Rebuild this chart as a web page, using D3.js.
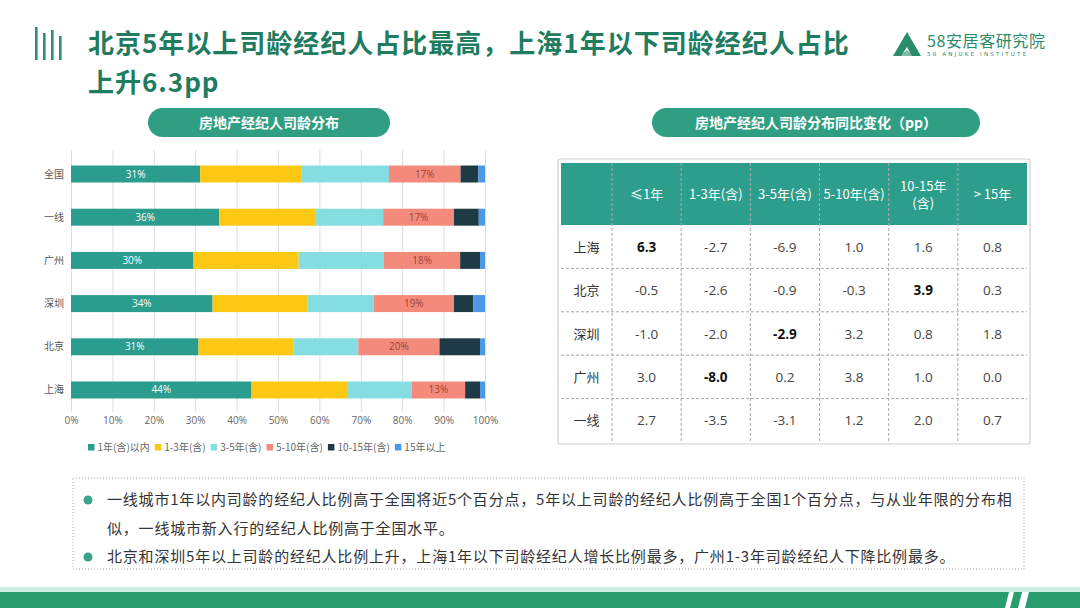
<!DOCTYPE html>
<html>
<head>
<meta charset="utf-8">
<script src="https://cdn.jsdelivr.net/npm/d3@7"></script>
<style>
  body { margin: 0; background: #fff; }
  #wrap { position: relative; width: 1080px; height: 608px; }
  svg { display: block; font-family: "Noto Sans CJK SC", "Noto Sans", sans-serif; }
  #title { position: absolute; left: 88px; top: 23px; font-family: "Noto Sans CJK SC", sans-serif;
           font-size: 26px; font-weight: 700; line-height: 38.5px; letter-spacing: 1px; white-space: nowrap; }
</style>
</head>
<body>
<div id="wrap">
<svg id="chart" width="1080" height="608"></svg>
<div id="title"></div>
</div>
<script>
// ---- data ----
var cities = ["全国", "一线", "广州", "深圳", "北京", "上海"];
var ageKeys = ["1年(含)以内", "1-3年(含)", "3-5年(含)", "5-10年(含)", "10-15年(含)", "15年以上"];
var share = [
  [31.2, 24.4, 21.2, 17.3, 4.3, 1.6],
  [35.8, 23.4, 16.2, 17.1, 6.0, 1.5],
  [29.6, 25.4, 20.6, 18.4, 4.8, 1.2],
  [34.2, 23.0, 15.9, 19.4, 4.7, 2.8],
  [30.8, 23.0, 15.6, 19.6, 9.8, 1.2],
  [43.6, 23.1, 15.6, 12.9, 3.6, 1.2]
];
var xTicks = [0, 10, 20, 30, 40, 50, 60, 70, 80, 90, 100];
var labelled = [0, 3];   // series that carry % labels

var tableCols = ["≤1年", "1-3年(含)", "3-5年(含)", "5-10年(含)", "10-15年\n(含)", "> 15年"];
var tableRows = ["上海", "北京", "深圳", "广州", "一线"];
var changes = [
  [6.3, -2.7, -6.9, 1.0, 1.6, 0.8],
  [-0.5, -2.6, -0.9, -0.3, 3.9, 0.3],
  [-1.0, -2.0, -2.9, 3.2, 0.8, 1.8],
  [3.0, -8.0, 0.2, 3.8, 1.0, 0.0],
  [2.7, -3.5, -3.1, 1.2, 2.0, 0.7]
];
var boldCells = [[0, 0], [1, 4], [2, 2], [3, 1]];

var titleLines = ["北京5年以上司龄经纪人占比最高，上海1年以下司龄经纪人占比", "上升6.3pp"];
var leftTitle = "房地产经纪人司龄分布";
var rightTitle = "房地产经纪人司龄分布同比变化（pp）";
var notes = [
  ["一线城市1年以内司龄的经纪人比例高于全国将近5个百分点，5年以上司龄的经纪人比例高于全国1个百分点，与从业年限的分布相",
   "似，一线城市新入行的经纪人比例高于全国水平。"],
  ["北京和深圳5年以上司龄的经纪人比例上升，上海1年以下司龄经纪人增长比例最多，广州1-3年司龄经纪人下降比例最多。"]
];

var colors = ["#2a9d8f", "#fbc813", "#84dde0", "#f48a7c", "#1e3b45", "#4a98e6"];
var green = "#1f7c5f";

var svg = d3.select("#chart");

// ---- header ----
var icon = svg.append("g").attr("fill", "#2b8f70");
[[35, 27], [43, 33], [51, 30], [59, 36]].forEach(function (b) {
  icon.append("rect").attr("x", b[0]).attr("y", b[1]).attr("width", 2.6).attr("height", 60 - b[1]);
});

d3.select("#title").style("color", green)
  .selectAll("div").data(titleLines).enter().append("div")
  .text(function (d) { return d; });

// logo
var logo = svg.append("g");
logo.append("path").attr("fill", "#2a8c6b")
  .attr("d", "M907,32 L921,56 L912,56 L907,47 L901,56 L893,56 Z");
logo.append("path").attr("fill", "#2a8c6b")
  .attr("d", "M899,56 L907,50 L915,56 Z").attr("opacity", 0.6);
logo.append("text").attr("x", 927).attr("y", 47)
  .attr("font-size", 16).attr("letter-spacing", 0.6).attr("fill", "#2a8c6b")
  .text("58安居客研究院");
logo.append("text").attr("x", 927).attr("y", 56)
  .attr("font-size", 5.5).attr("letter-spacing", 2.2).attr("fill", "#2a8c6b")
  .attr("font-family", "DejaVu Sans")
  .text("58 ANJUKE  INSTITUTE");

// section pills
[[148, 390, leftTitle], [652, 980, rightTitle]].forEach(function (p) {
  svg.append("rect").attr("x", p[0]).attr("y", 108).attr("width", p[1] - p[0]).attr("height", 29)
    .attr("rx", 14.5).attr("fill", "#2f9e83");
  svg.append("text").attr("x", (p[0] + p[1]) / 2).attr("y", 127.5)
    .attr("text-anchor", "middle").attr("font-size", 14).attr("font-weight", 700)
    .attr("fill", "#fff").text(p[2]);
});

// ---- stacked bar chart ----
var x = d3.scaleLinear().domain([0, 100]).range([71, 485]);
var y = d3.scaleBand().domain(cities).range([152, 412]).paddingInner(0.607).paddingOuter(0.313);

var gx = svg.append("g").attr("transform", "translate(0,412)")
  .call(d3.axisBottom(x).tickValues(xTicks).tickSize(-262).tickFormat(function (d) { return d + "%"; }));
gx.select(".domain").remove();
gx.selectAll(".tick line").attr("stroke", "#dedede");
gx.selectAll(".tick text").attr("dy", 9).attr("font-size", 10).attr("fill", "#666")
  .attr("font-family", "Open Sans, sans-serif");

var rows = cities.map(function (c, i) {
  var o = { city: c };
  ageKeys.forEach(function (k, j) { o[k] = share[i][j]; });
  return o;
});
var stacked = d3.stack().keys(ageKeys)(rows);

var layers = svg.selectAll("g.layer").data(stacked).enter().append("g")
  .attr("class", "layer").attr("fill", function (d, i) { return colors[i]; });
layers.selectAll("rect").data(function (d) { return d; }).enter().append("rect")
  .attr("x", function (d) { return x(d[0]); })
  .attr("y", function (d) { return y(d.data.city); })
  .attr("width", function (d) { return x(d[1]) - x(d[0]); })
  .attr("height", y.bandwidth());

labelled.forEach(function (si) {
  svg.append("g").selectAll("text").data(stacked[si]).enter().append("text")
    .attr("x", function (d) { return (x(d[0]) + x(d[1])) / 2; })
    .attr("y", function (d) { return y(d.data.city) + y.bandwidth() / 2 + 3.5; })
    .attr("text-anchor", "middle").attr("font-size", 10)
    .attr("font-family", "Open Sans, sans-serif")
    .attr("fill", si === 0 ? "#fff" : "#9b4338")
    .text(function (d) { return Math.round(d[1] - d[0]) + "%"; });
});

svg.append("g").selectAll("text").data(cities).enter().append("text")
  .attr("x", 64).attr("y", function (d) { return y(d) + y.bandwidth() / 2 + 3.5; })
  .attr("text-anchor", "end").attr("font-size", 10).attr("fill", "#555")
  .text(function (d) { return d; });

// legend
var lg = svg.append("g").attr("transform", "translate(88,448)");
var lx = 0;
ageKeys.forEach(function (k, i) {
  var item = lg.append("g").attr("transform", "translate(" + lx + ",0)");
  item.append("rect").attr("x", 0).attr("y", -4).attr("width", 6.5).attr("height", 6.5).attr("fill", colors[i]);
  var t = item.append("text").attr("x", 9.5).attr("y", 2.8).attr("font-size", 10).attr("fill", "#666").text(k);
  lx += 9.5 + t.node().getComputedTextLength() + 5;
});

// ---- change table ----
var tLeft = 561, tFirst = 612, tRight = 1027, tTop = 163, tHead = 225, tBottom = 442;
var cx = d3.scaleBand().domain(tableCols).range([tFirst, tRight]);
var ry = d3.scaleBand().domain(tableRows).range([tHead, tBottom]);

svg.append("rect").attr("x", tLeft - 3).attr("y", tTop - 4).attr("width", tRight - tLeft + 6)
  .attr("height", tBottom - tTop + 6).attr("rx", 2).attr("fill", "#fff")
  .attr("stroke", "#cfcfcf").attr("stroke-width", 1.2);
svg.append("rect").attr("x", tLeft).attr("y", tTop).attr("width", tRight - tLeft)
  .attr("height", tHead - tTop).attr("fill", "#2e9e8c");

var grid = svg.append("g").attr("stroke", "#a9a9a9").attr("stroke-dasharray", "3,2").attr("stroke-width", 1);
[tFirst].concat(tableCols.map(function (c) { return cx(c) + cx.bandwidth(); })).slice(0, tableCols.length)
  .forEach(function (gxp) {
    grid.append("line").attr("x1", gxp).attr("x2", gxp).attr("y1", tTop).attr("y2", tBottom);
  });
tableRows.slice(1).forEach(function (r) {
  grid.append("line").attr("x1", tLeft).attr("x2", tRight).attr("y1", ry(r)).attr("y2", ry(r));
});

tableCols.forEach(function (c) {
  var parts = c.split("\n");
  var t = svg.append("text").attr("x", cx(c) + cx.bandwidth() / 2)
    .attr("y", (tTop + tHead) / 2 + 5 - (parts.length - 1) * 8.5)
    .attr("text-anchor", "middle").attr("font-size", 13).attr("fill", "#fff");
  parts.forEach(function (p, i) {
    t.append("tspan").attr("x", cx(c) + cx.bandwidth() / 2).attr("dy", i ? 17 : 0).text(p);
  });
});

tableRows.forEach(function (r, ri) {
  var cyp = ry(r) + ry.bandwidth() / 2 + 5;
  svg.append("text").attr("x", (tLeft + tFirst) / 2).attr("y", cyp).attr("text-anchor", "middle")
    .attr("font-size", 13).attr("fill", "#333").text(r);
  changes[ri].forEach(function (v, ci) {
    var bold = boldCells.some(function (b) { return b[0] === ri && b[1] === ci; });
    svg.append("text").attr("x", cx(tableCols[ci]) + cx.bandwidth() / 2).attr("y", cyp)
      .attr("text-anchor", "middle").attr("font-size", 13.5)
      .attr("font-family", "Open Sans, sans-serif")
      .attr("font-weight", bold ? 700 : 400).attr("fill", bold ? "#111" : "#444")
      .text(v.toFixed(1));
  });
});

// ---- notes ----
svg.append("rect").attr("x", 73).attr("y", 478).attr("width", 951).attr("height", 91)
  .attr("fill", "none").attr("stroke", "#9fb4ad").attr("stroke-dasharray", "1,2");
var lineY = [505, 534, 562];
var li = 0;
notes.forEach(function (n) {
  svg.append("circle").attr("cx", 88).attr("cy", lineY[li] - 5).attr("r", 4.5).attr("fill", "#3aa487");
  n.forEach(function (line) {
    svg.append("text").attr("x", 107).attr("y", lineY[li]).attr("font-size", 15)
      .attr("letter-spacing", 0.8).attr("fill", "#333").text(line);
    li++;
  });
});

// ---- footer band ----
svg.append("rect").attr("x", 0).attr("y", 587).attr("width", 1080).attr("height", 5).attr("fill", "#cdeee2");
svg.append("rect").attr("x", 0).attr("y", 592).attr("width", 1080).attr("height", 16).attr("fill", "#2a9d6f");
svg.append("path").attr("fill", "#fff").attr("d", "M1009,592 L1014,592 L1010,608 L1005,608 Z");
svg.append("path").attr("fill", "#fff").attr("d", "M1022,592 L1029,592 L1025,608 L1018,608 Z");
</script>
</body>
</html>
